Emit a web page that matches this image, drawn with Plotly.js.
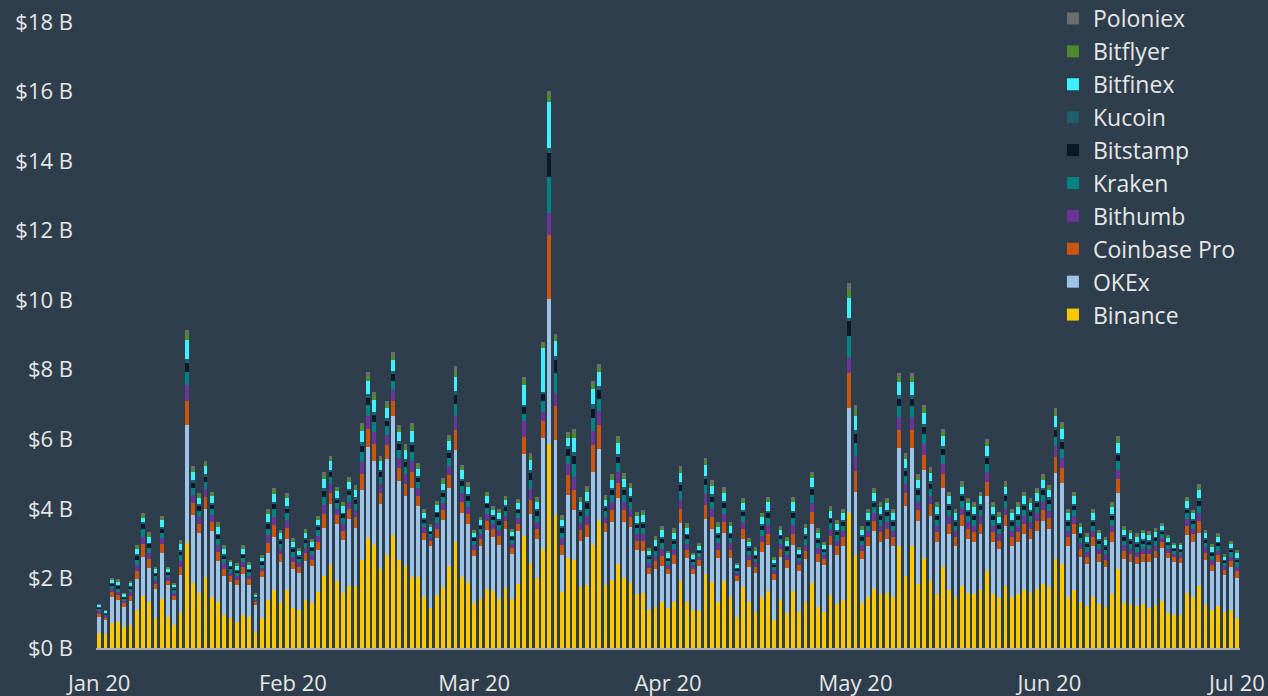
<!DOCTYPE html>
<html>
<head>
<meta charset="utf-8">
<script src="https://cdn.plot.ly/plotly-3.0.1.min.js"></script>
<style>html,body{margin:0;padding:0;background:#2e3e4c;}#chart{width:1268px;height:696px;}</style>
</head>
<body>
<div id="chart"></div>
<script>
var startDate = '2020-01-01';
var yTickVals = [0,2,4,6,8,10,12,14,16,18];
var yTickText = ['$0 B','$2 B','$4 B','$6 B','$8 B','$10 B','$12 B','$14 B','$16 B','$18 B'];

var binance = [.42,.40,.71,.76,.61,.66,1.09,1.50,1.31,.85,
1.41,.90,.66,1.00,3.01,1.88,1.57,2.03,1.48,1.33,
.95,.85,.76,.95,.90,.47,.85,1.38,1.67,1.33,
1.67,1.14,1.09,1.38,1.29,1.60,2.07,2.39,1.93,1.59,
1.79,1.79,2.53,3.16,2.96,2.26,2.68,3.25,2.53,2.36,
2.03,2.03,1.46,1.14,1.53,1.75,2.36,3.06,2.03,1.88,
1.29,1.40,1.69,1.65,1.40,1.72,1.40,1.85,3.23,2.43,
2.01,2.86,5.88,3.82,1.61,2.59,2.54,1.74,1.80,2.96,
3.65,1.80,1.96,2.42,2.00,1.86,1.55,1.57,1.09,1.19,
1.33,1.14,1.33,1.94,1.33,1.09,1.07,2.12,1.89,1.31,
1.93,1.46,.90,1.75,1.31,1.04,1.46,1.65,.81,1.38,
1.00,1.65,1.04,1.31,1.88,1.17,1.04,1.53,1.27,1.38,
3.89,2.68,
1.30,1.48,1.70,1.55,1.59,1.48,2.92,2.07,2.92,1.85,
2.59,1.92,1.55,2.33,1.67,1.48,1.78,1.59,1.55,1.67,
2.22,1.55,1.44,1.78,1.48,1.55,1.67,1.59,1.70,1.85,
1.74,2.55,2.41,1.48,1.67,1.33,1.22,1.48,1.26,1.18,
1.55,2.26,1.30,1.26,1.22,1.26,
1.14,1.24,1.36,1.00,.95,.95,1.57,1.48,1.78,1.24,1.09,1.21,1.04,1.09,.85];

var okex = [.48,.40,.77,.62,.58,.70,.89,1.13,1.00,.84,
1.31,.91,.72,1.10,3.41,1.95,1.73,1.97,1.87,1.17,
1.12,1.06,1.05,1.17,.91,.77,1.20,1.34,1.53,1.15,
1.46,1.12,1.08,1.12,1.07,1.22,1.39,1.75,1.63,1.52,
1.91,1.67,2.02,2.62,2.43,1.88,2.76,3.41,2.26,2.01,
2.57,2.06,1.65,1.78,1.63,1.93,2.25,2.62,1.85,1.69,
1.36,1.52,1.71,1.55,1.56,1.70,1.30,1.50,2.34,1.41,
1.11,3.18,4.15,2.17,1.06,1.81,1.43,1.33,1.38,2.11,
2.08,1.54,1.67,1.90,1.62,1.61,1.26,1.22,1.04,1.07,
1.03,.98,1.09,1.65,1.25,1.03,1.29,1.58,1.53,1.27,
1.37,1.12,1.04,1.39,1.03,1.13,1.31,1.31,1.15,1.25,
1.31,1.31,1.18,1.24,1.68,1.31,1.35,1.43,1.41,1.54,
3.01,1.82,
1.26,1.44,1.66,1.51,1.55,1.44,2.84,2.02,2.84,1.80,
2.52,1.87,1.51,2.27,1.62,1.44,1.73,1.55,1.51,1.62,
2.16,1.51,1.40,1.73,1.44,1.51,1.62,1.55,1.66,1.80,
1.69,2.48,2.34,1.44,1.62,1.30,1.19,1.44,1.22,1.15,
1.51,2.20,1.26,1.22,1.19,1.22,
1.34,1.34,1.51,1.58,1.53,1.49,1.68,1.58,1.52,1.29,1.13,1.25,1.06,1.23,1.15];

var coinbasePro = [.09,.07,.13,.14,.10,.14,.24,.35,.25,.16,
.26,.13,.12,.24,.67,.33,.28,.33,.28,.27,
.21,.15,.15,.20,.16,.08,.15,.30,.34,.22,
.32,.22,.17,.22,.18,.24,.38,.33,.26,.26,
.30,.30,.46,.52,.47,.33,.40,.44,.39,.36,
.45,.29,.21,.15,.26,.29,.36,.58,.33,.29,
.18,.21,.26,.21,.25,.23,.18,.22,.50,.43,
.30,.48,1.85,.96,.28,.58,.56,.31,.36,.76,
.69,.25,.33,.43,.34,.31,.27,.28,.18,.23,
.28,.16,.25,.40,.24,.15,.16,.42,.34,.25,
.32,.25,.12,.28,.20,.17,.27,.33,.16,.21,
.21,.33,.16,.25,.36,.23,.16,.27,.24,.26,
1.00,.60,
.23,.26,.30,.27,.28,.26,.51,.36,.51,.32,
.45,.34,.27,.41,.29,.26,.31,.28,.27,.29,
.39,.27,.25,.31,.26,.27,.29,.28,.30,.32,
.30,.45,.42,.26,.29,.23,.21,.26,.22,.21,
.27,.39,.23,.22,.21,.22,
.21,.21,.17,.16,.13,.14,.26,.22,.34,.21,.18,.20,.15,.18,.20];

var bithumb = [.06,.05,.09,.10,.07,.10,.17,.20,.17,.11,
.18,.09,.09,.17,.48,.24,.20,.24,.20,.19,
.15,.11,.11,.14,.11,.06,.11,.22,.24,.16,
.23,.15,.12,.16,.13,.17,.27,.24,.18,.19,
.21,.21,.33,.37,.34,.24,.28,.31,.28,.26,
.32,.21,.15,.11,.18,.20,.26,.41,.24,.20,
.13,.15,.19,.15,.18,.16,.12,.16,.45,.30,
.21,.27,.64,.37,.20,.30,.40,.22,.25,.42,
.40,.18,.23,.30,.24,.22,.19,.20,.13,.16,
.20,.12,.17,.28,.17,.11,.11,.30,.24,.18,
.22,.18,.09,.20,.14,.12,.19,.24,.11,.15,
.15,.24,.12,.17,.26,.16,.11,.19,.17,.18,
.44,.42,
.16,.18,.21,.19,.20,.18,.36,.26,.36,.23,
.32,.24,.19,.29,.21,.18,.22,.20,.19,.21,
.28,.19,.18,.22,.18,.19,.21,.20,.21,.23,
.22,.32,.30,.18,.21,.16,.15,.18,.16,.15,
.19,.28,.16,.16,.15,.16,
.15,.15,.12,.11,.09,.10,.19,.15,.24,.15,.13,.14,.10,.13,.14];

var kraken = [.06,.04,.08,.09,.06,.09,.15,.24,.15,.10,
.16,.08,.07,.15,.38,.21,.17,.21,.17,.17,
.13,.09,.09,.13,.10,.05,.09,.19,.21,.14,
.20,.14,.10,.14,.12,.15,.24,.21,.16,.17,
.18,.18,.29,.32,.30,.21,.25,.28,.24,.22,
.28,.18,.13,.10,.16,.18,.23,.36,.21,.18,
.11,.13,.17,.13,.16,.14,.11,.14,.21,.27,
.18,.30,1.01,.58,.17,.25,.35,.19,.22,.37,
.35,.16,.21,.27,.21,.19,.17,.18,.11,.14,
.17,.10,.15,.25,.15,.09,.10,.26,.21,.15,
.20,.16,.07,.18,.12,.11,.17,.21,.10,.13,
.13,.21,.10,.15,.23,.14,.10,.17,.15,.16,
.62,.37,
.14,.16,.19,.17,.17,.16,.32,.23,.32,.20,
.28,.21,.17,.26,.18,.16,.19,.17,.17,.18,
.24,.17,.16,.19,.16,.17,.18,.17,.19,.20,
.19,.28,.26,.16,.18,.15,.13,.16,.14,.13,
.17,.25,.14,.14,.13,.14,
.13,.13,.11,.10,.08,.09,.17,.14,.21,.13,.12,.13,.09,.12,.12];

var bitstamp = [.04,.03,.05,.06,.04,.06,.10,.15,.10,.06,
.11,.05,.05,.10,.25,.14,.12,.14,.12,.11,
.09,.06,.06,.08,.07,.03,.06,.13,.14,.09,
.13,.09,.07,.09,.08,.10,.16,.14,.11,.11,
.12,.12,.19,.21,.20,.14,.16,.18,.16,.15,
.19,.12,.09,.06,.11,.12,.15,.24,.14,.12,
.08,.09,.11,.09,.10,.10,.07,.09,.19,.18,
.12,.20,.69,.38,.12,.18,.23,.13,.15,.26,
.24,.11,.14,.18,.14,.13,.11,.12,.07,.10,
.12,.07,.10,.16,.10,.06,.07,.18,.14,.10,
.13,.10,.05,.12,.08,.07,.11,.14,.07,.09,
.09,.14,.07,.10,.15,.10,.07,.11,.10,.11,
.43,.25,
.10,.11,.12,.11,.12,.11,.21,.15,.21,.14,
.19,.14,.11,.17,.12,.11,.13,.12,.11,.12,
.16,.11,.11,.13,.11,.11,.12,.12,.12,.14,
.13,.19,.18,.11,.12,.10,.09,.11,.09,.09,
.11,.16,.10,.09,.09,.09,
.09,.09,.07,.07,.06,.06,.11,.09,.14,.09,.08,.08,.06,.08,.08];

var kucoin = [.02,.01,.03,.03,.02,.03,.05,.05,.05,.03,
.05,.03,.03,.05,.10,.07,.06,.07,.06,.05,
.05,.03,.03,.04,.03,.02,.03,.06,.07,.05,
.07,.04,.04,.05,.04,.05,.08,.07,.05,.05,
.06,.06,.10,.11,.10,.07,.08,.09,.08,.08,
.09,.06,.04,.03,.05,.06,.08,.12,.07,.06,
.04,.04,.05,.04,.05,.05,.04,.05,.08,.09,
.06,.08,.17,.12,.06,.09,.12,.06,.07,.13,
.12,.05,.07,.09,.07,.06,.05,.06,.04,.05,
.06,.03,.05,.08,.05,.03,.03,.09,.07,.05,
.07,.05,.03,.06,.04,.04,.06,.07,.03,.04,
.05,.07,.03,.05,.08,.05,.03,.05,.05,.05,
.10,.12,
.05,.05,.06,.06,.06,.05,.11,.08,.11,.07,
.10,.07,.06,.08,.06,.05,.06,.06,.06,.06,
.08,.06,.05,.06,.05,.06,.06,.06,.06,.07,
.06,.09,.09,.05,.06,.05,.05,.05,.05,.04,
.06,.08,.05,.05,.05,.05,
.04,.04,.04,.03,.03,.03,.05,.05,.07,.04,.04,.04,.03,.04,.04];

var bitfinex = [.06,.05,.09,.10,.07,.09,.16,.12,.17,.11,
.19,.09,.08,.17,.56,.24,.19,.24,.19,.19,
.15,.11,.11,.14,.11,.05,.11,.22,.24,.16,
.23,.15,.12,.16,.13,.16,.27,.24,.19,.19,
.21,.21,.33,.36,.33,.24,.28,.31,.28,.25,
.32,.21,.15,.11,.18,.20,.26,.41,.24,.20,
.13,.14,.19,.15,.18,.16,.12,.16,.55,.30,
.21,1.27,1.32,.42,.19,.25,.40,.22,.25,.44,
.41,.18,.23,.30,.24,.22,.19,.20,.13,.16,
.19,.12,.17,.28,.17,.11,.11,.30,.24,.18,
.22,.18,.08,.20,.14,.12,.19,.24,.11,.15,
.15,.24,.12,.17,.26,.16,.11,.19,.17,.19,
.56,.42,
.16,.19,.21,.20,.20,.19,.37,.26,.37,.23,
.32,.24,.20,.29,.21,.19,.22,.20,.20,.21,
.28,.20,.18,.22,.19,.20,.21,.20,.21,.23,
.22,.32,.30,.19,.21,.17,.15,.19,.16,.15,
.20,.28,.16,.16,.15,.16,
.15,.14,.12,.11,.09,.10,.19,.16,.24,.15,.13,.14,.10,.13,.14];

var bitflyer = [.02,.02,.04,.04,.02,.04,.07,.08,.07,.05,
.08,.04,.03,.07,.17,.09,.08,.09,.08,.08,
.06,.04,.05,.06,.05,.02,.05,.09,.09,.06,
.09,.06,.05,.06,.05,.07,.11,.09,.08,.08,
.09,.09,.13,.15,.14,.09,.12,.13,.11,.10,
.13,.09,.06,.04,.08,.09,.11,.17,.09,.08,
.05,.06,.08,.06,.07,.07,.05,.07,.15,.12,
.09,.10,.21,.12,.08,.09,.16,.09,.10,.14,
.13,.08,.10,.12,.10,.09,.08,.08,.05,.07,
.08,.05,.07,.12,.07,.04,.05,.12,.09,.07,
.09,.07,.03,.08,.06,.05,.08,.09,.05,.06,
.06,.09,.05,.07,.10,.07,.05,.08,.07,.08,
.25,.18,
.07,.08,.09,.08,.08,.08,.15,.10,.15,.09,
.13,.10,.08,.12,.08,.08,.09,.08,.08,.08,
.11,.08,.07,.09,.08,.08,.08,.08,.09,.09,
.09,.13,.12,.08,.08,.07,.06,.08,.06,.06,
.08,.11,.07,.06,.06,.06,
.06,.06,.05,.05,.04,.04,.08,.06,.10,.06,.05,.06,.04,.05,.06];

var poloniex = [.02,.02,.03,.04,.02,.02,.04,.07,.06,.03,
.05,.02,.03,.06,.12,.07,.05,.07,.05,.05,
.05,.03,.03,.05,.04,.02,.03,.06,.07,.04,
.07,.05,.03,.04,.04,.04,.09,.07,.05,.05,
.06,.06,.09,.11,.09,.07,.08,.10,.09,.08,
.10,.06,.05,.04,.05,.06,.07,.13,.07,.06,
.03,.04,.05,.04,.05,.05,.04,.04,.10,.09,
.06,.05,.11,.08,.05,.06,.12,.06,.08,.10,
.10,.05,.06,.09,.08,.06,.05,.06,.03,.05,
.05,.03,.06,.08,.06,.03,.04,.09,.07,.05,
.07,.06,.03,.05,.04,.04,.05,.07,.04,.05,
.05,.07,.03,.06,.07,.05,.04,.05,.05,.05,
.19,.13,
.04,.05,.06,.06,.05,.05,.11,.07,.11,.07,
.10,.07,.06,.08,.06,.05,.07,.05,.06,.06,
.08,.06,.06,.07,.05,.06,.06,.05,.06,.07,
.06,.09,.08,.05,.06,.04,.05,.05,.04,.04,
.06,.09,.04,.04,.05,.04,
.04,.04,.04,.04,.03,.03,.05,.04,.08,.04,.04,.05,.04,.04,.04];

var dates = [];
(function(){
  var d0 = new Date(startDate + 'T00:00:00Z');
  for (var i = 0; i < binance.length; i++) {
    var d = new Date(d0.getTime() + i * 86400000);
    dates.push(d.toISOString().slice(0, 10));
  }
})();

var series = [
  {name: 'Binance', y: binance, color: '#fcc800'},
  {name: 'OKEx', y: okex, color: '#9dc3e6'},
  {name: 'Coinbase Pro', y: coinbasePro, color: '#c9550e'},
  {name: 'Bithumb', y: bithumb, color: '#6a3499'},
  {name: 'Kraken', y: kraken, color: '#008382'},
  {name: 'Bitstamp', y: bitstamp, color: '#0b1829'},
  {name: 'Kucoin', y: kucoin, color: '#1f5e6b'},
  {name: 'Bitfinex', y: bitfinex, color: '#3ff0ff'},
  {name: 'Bitflyer', y: bitflyer, color: '#4e8a2e'},
  {name: 'Poloniex', y: poloniex, color: '#6d6d6d'}
];

var traces = series.map(function(s){
  return {
    type: 'bar',
    name: s.name,
    x: dates,
    y: s.y,
    marker: {color: s.color, line: {width: 0}},
    hoverinfo: 'x+y+name'
  };
});

var fontFamily = '"Open Sans", "Noto Sans", sans-serif';

var layout = {
  width: 1268,
  height: 696,
  paper_bgcolor: '#2e3e4c',
  plot_bgcolor: '#2e3e4c',
  font: {family: fontFamily, color: '#e6e6e6', size: 22},
  margin: {l: 96, r: 28, t: 22, b: 48, autoexpand: false},
  barmode: 'stack',
  bargap: 0.4,
  showlegend: true,
  xaxis: {
    type: 'date',
    range: ['2019-12-31 12:00', '2020-07-01 12:00'],
    tick0: '2020-01-01',
    dtick: 'M1',
    tickformat: '%b %y',
    showgrid: false,
    zeroline: false,
    showline: true,
    linecolor: '#aab3bb',
    linewidth: 2,
    ticks: '',
    ticklabelstandoff: 15,
    tickfont: {size: 22, color: '#e6e6e6'}
  },
  yaxis: {
    range: [0, 18],
    tickmode: 'array',
    tickvals: yTickVals,
    ticktext: yTickText,
    showgrid: false,
    zeroline: false,
    showline: false,
    ticks: '',
    ticklabelstandoff: 22,
    tickfont: {size: 22, color: '#e6e6e6'}
  },
  legend: {
    xref: 'paper',
    yref: 'paper',
    x: 0.8365,
    y: 1.0399,
    xanchor: 'left',
    yanchor: 'top',
    traceorder: 'reversed',
    bgcolor: 'rgba(0,0,0,0)',
    font: {size: 23, color: '#e6e6e6'}
  }
};

Plotly.newPlot('chart', traces, layout, {displayModeBar: false, staticPlot: true});
</script>
</body>
</html>
